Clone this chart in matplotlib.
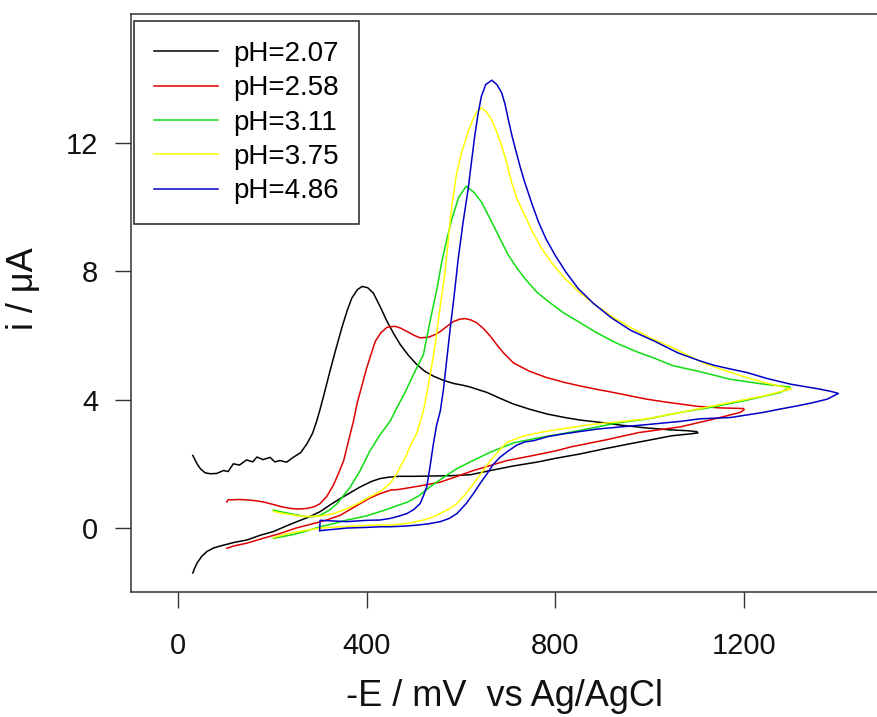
import matplotlib
matplotlib.use("Agg")
import matplotlib.pyplot as plt

plt.rcParams['font.family'] = ['Liberation Sans', 'DejaVu Sans']

labels = ["pH=2.07", "pH=2.58", "pH=3.11", "pH=3.75", "pH=4.86"]
colors = ["#000000", "#e00000", "#10dd10", "#ffff00", "#0000c8"]

# pH 2.07 (black)
x_207 = [31, 40, 47, 57, 68, 82, 96, 106, 117, 130, 145, 158, 167, 180, 195, 205, 216, 230, 245, 260,
         273, 285, 294, 301, 310, 322, 335, 347, 358, 368, 380, 390, 402, 414, 428, 443, 457, 471, 488,
         506, 523, 541, 562, 584, 602, 619, 640, 655, 679, 711, 745, 782, 820, 853, 895, 940, 990, 1040,
         1079, 1100, 1102, 1085, 1046, 1000, 950, 905, 850, 800, 764, 710, 662, 620, 580, 540, 500, 467,
         445, 428, 410, 386, 365, 344, 322, 301, 275, 252, 227, 202, 175, 146, 118, 89, 75, 61, 50, 40, 35, 31]
y_207 = [2.26, 2.0, 1.85, 1.72, 1.69, 1.70, 1.79, 1.76, 2.0, 1.96, 2.12, 2.06, 2.21, 2.13, 2.2, 2.06,
         2.10, 2.05, 2.21, 2.35, 2.62, 2.95, 3.34, 3.7, 4.2, 4.89, 5.6, 6.23, 6.75, 7.15, 7.42, 7.52, 7.48,
         7.31, 6.9, 6.43, 6.05, 5.71, 5.38, 5.09, 4.88, 4.73, 4.60, 4.50, 4.45, 4.39, 4.29, 4.22, 4.06,
         3.86, 3.70, 3.55, 3.44, 3.36, 3.29, 3.20, 3.12, 3.06, 3.03, 3.00, 2.96, 2.93, 2.87, 2.74, 2.60,
         2.47, 2.30, 2.17, 2.06, 1.93, 1.79, 1.66, 1.63, 1.62, 1.61, 1.61, 1.58, 1.54, 1.45, 1.28, 1.10,
         0.92, 0.72, 0.51, 0.33, 0.20, 0.05, -0.11, -0.22, -0.37, -0.45, -0.56, -0.62, -0.73, -0.88,
         -1.09, -1.25, -1.40]

# pH 2.58 (red)
x_258 = [103, 106, 115, 131, 150, 165, 181, 200, 220, 238, 255, 273, 288, 301, 315, 329, 340, 351, 361,
         372, 379, 390, 400, 410, 418, 430, 443, 460, 472, 485, 500, 513, 531, 545, 556, 570, 584, 597,
         609, 622, 634, 648, 662, 676, 690, 711, 745, 782, 820, 853, 890, 923, 960, 994, 1030, 1065, 1100,
         1150, 1199, 1200, 1192, 1135, 1065, 976, 909, 834, 803, 750, 697, 665, 626, 590, 556, 520, 492,
         467, 450, 428, 405, 386, 365, 344, 315, 287, 250, 216, 180, 146, 120, 103]
y_258 = [0.81, 0.88, 0.88, 0.89, 0.87, 0.85, 0.81, 0.74, 0.66, 0.61, 0.59, 0.61, 0.66, 0.76, 0.98,
         1.33, 1.70, 2.10, 2.70, 3.34, 3.86, 4.45, 4.99, 5.45, 5.81, 6.08, 6.25, 6.28, 6.22, 6.12, 6.00,
         5.92, 5.94, 6.02, 6.12, 6.28, 6.43, 6.50, 6.52, 6.47, 6.38, 6.20, 5.97, 5.70, 5.45, 5.14, 4.88,
         4.68, 4.53, 4.42, 4.31, 4.22, 4.11, 4.01, 3.93, 3.86, 3.79, 3.74, 3.72, 3.68, 3.60, 3.39, 3.15,
         2.97, 2.75, 2.53, 2.41, 2.25, 2.10, 1.96, 1.79, 1.60, 1.43, 1.33, 1.26, 1.20, 1.18, 1.07, 0.92,
         0.76, 0.58, 0.40, 0.25, 0.14, 0.0, -0.17, -0.32, -0.47, -0.55, -0.63]

# pH 3.11 (green)
x_311 = [202, 220, 238, 255, 273, 290, 301, 320, 337, 350, 365, 386, 407, 428, 450, 464, 482, 499, 520,
         534, 549, 559, 570, 580, 595, 611, 627, 643, 657, 672, 686, 700, 718, 735, 760, 785, 817, 848,
         885, 926, 970, 1011, 1050, 1100, 1171, 1241, 1298, 1277, 1206, 1135, 1107, 1065, 994, 930, 880,
         820, 768, 711, 662, 625, 591, 560, 534, 510, 485, 467, 450, 428, 400, 358, 330, 301, 275, 245,
         220, 202]
y_311 = [0.56, 0.50, 0.45, 0.40, 0.35, 0.36, 0.40, 0.55, 0.76, 1.00, 1.28, 1.79, 2.41, 2.90, 3.34,
         3.75, 4.25, 4.78, 5.40, 6.43, 7.46, 8.29, 9.00, 9.60, 10.30, 10.64, 10.45, 10.15, 9.75, 9.32,
         8.90, 8.50, 8.10, 7.77, 7.35, 7.05, 6.70, 6.43, 6.10, 5.78, 5.50, 5.28, 5.05, 4.89, 4.63, 4.48,
         4.39, 4.22, 3.98, 3.77, 3.70, 3.60, 3.39, 3.27, 3.12, 2.95, 2.82, 2.65, 2.36, 2.10, 1.85, 1.55,
         1.28, 1.00, 0.80, 0.71, 0.62, 0.51, 0.38, 0.25, 0.14, 0.04, -0.08, -0.20, -0.27, -0.32]

# pH 3.75 (yellow)
x_375 = [202, 220, 238, 255, 273, 301, 330, 358, 386, 410, 430, 450, 462, 471, 482, 492, 506, 520, 527,
         536, 545, 552, 559, 566, 573, 580, 590, 601, 612, 622, 633, 643, 654, 664, 675, 686, 697, 707,
         720, 735, 752, 771, 795, 820, 850, 884, 920, 961, 1000, 1046, 1080, 1120, 1170, 1220, 1260, 1300,
         1241, 1171, 1107, 1065, 994, 930, 874, 820, 768, 730, 697, 680, 662, 645, 626, 608, 591, 575, 556,
         538, 520, 490, 450, 428, 400, 360, 330, 301, 275, 252, 225, 202]
y_375 = [0.52, 0.46, 0.42, 0.38, 0.36, 0.37, 0.45, 0.60, 0.80, 1.00, 1.15, 1.40, 1.65, 1.90, 2.20,
         2.55, 2.95, 3.65, 4.17, 4.90, 5.71, 6.50, 7.26, 8.00, 9.00, 10.00, 11.00, 11.69, 12.20, 12.62,
         12.95, 13.08, 12.95, 12.72, 12.35, 11.90, 11.35, 10.76, 10.20, 9.73, 9.20, 8.70, 8.20, 7.77, 7.35,
         6.95, 6.58, 6.23, 5.93, 5.63, 5.38, 5.10, 4.85, 4.62, 4.47, 4.33, 4.11, 3.91, 3.72, 3.60, 3.40,
         3.30, 3.22, 3.10, 2.98, 2.85, 2.67, 2.40, 2.10, 1.75, 1.38, 1.03, 0.76, 0.60, 0.45, 0.33, 0.25,
         0.15, 0.09, 0.10, 0.08, 0.05, 0.03, 0.00, -0.06, -0.12, -0.20, -0.30]

# pH 4.86 (blue)
x_486 = [300, 301, 330, 358, 400, 428, 450, 470, 485, 500, 513, 520, 527, 534, 541, 548, 556, 563, 570,
         577, 585, 594, 604, 615, 622, 629, 636, 643, 652, 665, 676, 686, 693, 700, 708, 717, 726, 735,
         750, 764, 780, 799, 823, 848, 880, 919, 960, 1011, 1060, 1103, 1135, 1171, 1206, 1250, 1298,
         1330, 1362, 1385, 1400, 1376, 1345, 1312, 1275, 1241, 1206, 1171, 1107, 1065, 994, 940, 888, 850,
         817, 785, 754, 735, 718, 700, 683, 668, 655, 640, 626, 610, 591, 575, 556, 530, 506, 480, 450,
         428, 400, 358, 330, 301]
y_486 = [-0.08, 0.24, 0.22, 0.20, 0.24, 0.25, 0.30, 0.38, 0.45, 0.58, 0.76, 1.00, 1.28, 1.90, 2.60,
         3.20, 3.65, 4.37, 5.30, 6.23, 7.20, 8.40, 9.50, 10.56, 11.40, 12.21, 12.90, 13.44, 13.80, 13.94,
         13.80, 13.55, 13.20, 12.72, 12.20, 11.69, 11.20, 10.76, 10.10, 9.53, 9.00, 8.50, 7.95, 7.46, 7.00,
         6.54, 6.15, 5.81, 5.45, 5.22, 5.07, 4.95, 4.84, 4.65, 4.48, 4.40, 4.32, 4.25, 4.19, 4.01, 3.90,
         3.80, 3.70, 3.60, 3.52, 3.44, 3.40, 3.32, 3.22, 3.15, 3.08, 3.00, 2.93, 2.85, 2.72, 2.68, 2.58,
         2.40, 2.21, 1.98, 1.69, 1.38, 1.07, 0.75, 0.45, 0.30, 0.20, 0.13, 0.09, 0.06, 0.04, 0.04, 0.02,
         0.00, -0.04, -0.08]

series_x = [x_207, x_258, x_311, x_375, x_486]
series_y = [y_207, y_258, y_311, y_375, y_486]

x_ticks = [0, 400, 800, 1200]
y_ticks = [0, 4, 8, 12]

fig = plt.figure(figsize=(8.78, 7.17), dpi=100)
ax = fig.add_axes([131 / 878, 1 - 592.3 / 717, 1 - 131 / 878, (592.3 - 14) / 717])

for xs, ys, c, lab in zip(series_x, series_y, colors, labels):
    ax.plot(xs, ys, color=c, lw=1.1, label=lab)

ax.set_xlim(-100, 1484)
ax.set_ylim(-2, 16)
ax.set_xticks(x_ticks)
ax.set_yticks(y_ticks)

spine_col = "#333333"
for s in ["left", "bottom", "top"]:
    ax.spines[s].set_color(spine_col)
    ax.spines[s].set_linewidth(1.1)
ax.spines["right"].set_visible(False)

ax.tick_params(axis="both", direction="out", length=11.5, width=1.0, color=spine_col,
               labelsize=21, labelcolor="#111111")
ax.tick_params(axis="x", pad=17)
ax.tick_params(axis="y", pad=12)

ax.set_xlabel("-E / mV  vs Ag/AgCl", fontsize=26, color="#111111", labelpad=14)
ax.set_ylabel("i / μA", fontsize=26, color="#111111")
ax.yaxis.set_label_coords(-0.121, 0.525)

leg = ax.legend(loc="upper left", bbox_to_anchor=(0.004, 0.988), borderaxespad=0,
                fontsize=20, frameon=True, fancybox=False, framealpha=1,
                edgecolor="#222222", handlelength=2.3, handletextpad=0.55,
                labelspacing=0.3, borderpad=0.72)
leg.get_frame().set_linewidth(1.1)

fig.savefig("out.png", dpi=100)
